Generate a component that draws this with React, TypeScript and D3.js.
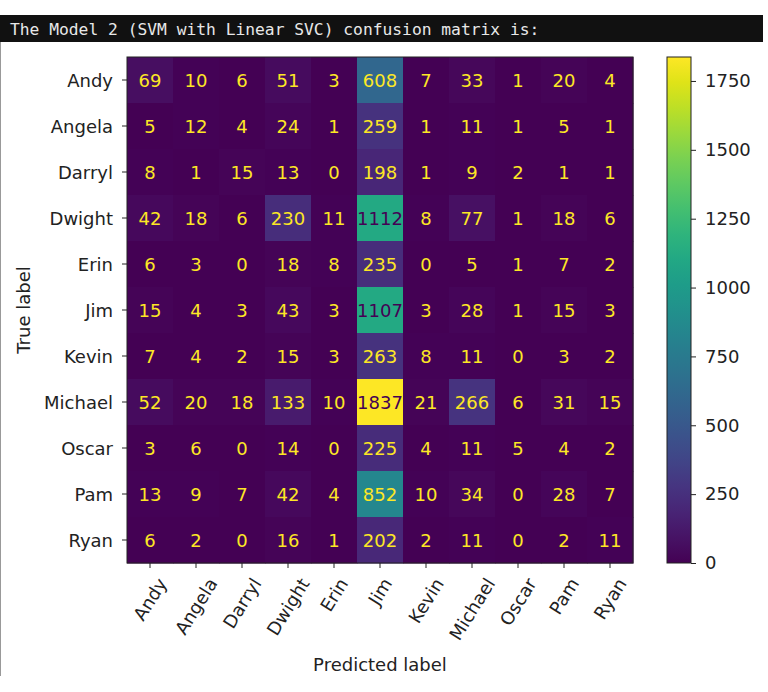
import * as d3 from "d3";
import { useEffect, useRef } from "react";

const labels = ["Andy", "Angela", "Darryl", "Dwight", "Erin", "Jim", "Kevin", "Michael", "Oscar", "Pam", "Ryan"];

const andy = [69, 10, 6, 51, 3, 608, 7, 33, 1, 20, 4];
const angela = [5, 12, 4, 24, 1, 259, 1, 11, 1, 5, 1];
const darryl = [8, 1, 15, 13, 0, 198, 1, 9, 2, 1, 1];
const dwight = [42, 18, 6, 230, 11, 1112, 8, 77, 1, 18, 6];
const erin = [6, 3, 0, 18, 8, 235, 0, 5, 1, 7, 2];
const jim = [15, 4, 3, 43, 3, 1107, 3, 28, 1, 15, 3];
const kevin = [7, 4, 2, 15, 3, 263, 8, 11, 0, 3, 2];
const michael = [52, 20, 18, 133, 10, 1837, 21, 266, 6, 31, 15];
const oscar = [3, 6, 0, 14, 0, 225, 4, 11, 5, 4, 2];
const pam = [13, 9, 7, 42, 4, 852, 10, 34, 0, 28, 7];
const ryan = [6, 2, 0, 16, 1, 202, 2, 11, 0, 2, 11];

const matrix = [andy, angela, darryl, dwight, erin, jim, kevin, michael, oscar, pam, ryan];

const colorbarTicks = [0, 250, 500, 750, 1000, 1250, 1500, 1750];

const title = "The Model 2 (SVM with Linear SVC) confusion matrix is:";

export default function App() {
  const ref = useRef<SVGSVGElement>(null);

  useEffect(() => {
    if (!ref.current) return;
    document.body.style.margin = "0";
    const svg = d3.select(ref.current);
    svg.selectAll("*").remove();

    const font = "'DejaVu Sans', sans-serif";
    const fs = 18;
    const W = 768;
    const H = 692;

    svg.append("rect").attr("width", W).attr("height", H).attr("fill", "#fff");

    // header bar
    svg.append("rect").attr("x", 0).attr("y", 15).attr("width", 763).attr("height", 27).attr("fill", "#111");
    svg
      .append("text")
      .attr("x", 10)
      .attr("y", 35)
      .style("font-family", "'DejaVu Sans Mono', monospace")
      .style("font-size", "16.3px")
      .attr("fill", "#e8e8e8")
      .text(title);
    svg.append("line").attr("x1", 0.5).attr("x2", 0.5).attr("y1", 42).attr("y2", 676).attr("stroke", "#999");

    const left = 127, right = 633, top = 57, bottom = 563;
    const x = d3.scaleBand<string>().domain(labels).range([left, right]);
    const y = d3.scaleBand<string>().domain(labels).range([top, bottom]);

    const vmax = d3.max(matrix.flat())!;
    const vmin = d3.min(matrix.flat())!;
    const color = d3.scaleSequential(d3.interpolateViridis).domain([vmin, vmax]);
    const thresh = (vmax + vmin) / 2;

    const cells = matrix.flatMap((row, i) => row.map((v, j) => ({ r: labels[i], c: labels[j], v })));

    const g = svg.append("g");
    g.selectAll("rect.cell")
      .data(cells)
      .enter()
      .append("rect")
      .attr("class", "cell")
      .attr("x", (d) => x(d.c)!)
      .attr("y", (d) => y(d.r)!)
      .attr("width", x.bandwidth() + 0.5)
      .attr("height", y.bandwidth() + 0.5)
      .attr("fill", (d) => color(d.v));

    g.selectAll("text.val")
      .data(cells)
      .enter()
      .append("text")
      .attr("class", "val")
      .attr("x", (d) => x(d.c)! + x.bandwidth() / 2)
      .attr("y", (d) => y(d.r)! + y.bandwidth() / 2)
      .attr("text-anchor", "middle")
      .attr("dominant-baseline", "central")
      .style("font-family", font)
      .style("font-size", `${fs}px`)
      .attr("fill", (d) => (d.v > thresh ? d3.interpolateViridis(0) : d3.interpolateViridis(1)))
      .text((d) => d.v);

    svg
      .append("rect")
      .attr("x", left)
      .attr("y", top)
      .attr("width", right - left)
      .attr("height", bottom - top)
      .attr("fill", "none")
      .attr("stroke", "#222")
      .attr("stroke-width", 1);

    // y axis
    const yAxis = svg.append("g");
    labels.forEach((l) => {
      const cy = y(l)! + y.bandwidth() / 2;
      yAxis.append("line").attr("x1", left - 5).attr("x2", left).attr("y1", cy).attr("y2", cy).attr("stroke", "#222");
      yAxis
        .append("text")
        .attr("x", left - 14)
        .attr("y", cy)
        .attr("text-anchor", "end")
        .attr("dominant-baseline", "central")
        .style("font-family", font)
        .style("font-size", `${fs}px`)
        .attr("fill", "#222")
        .text(l);
    });

    // x axis: rotated labels, rotated bbox centred under the tick
    const rot = 58;
    const rad = (rot * Math.PI) / 180;
    const ctx = document.createElement("canvas").getContext("2d")!;
    ctx.font = `${fs}px 'DejaVu Sans'`;
    const xAxis = svg.append("g");
    labels.forEach((l) => {
      const cx = x(l)! + x.bandwidth() / 2;
      xAxis.append("line").attr("x1", cx).attr("x2", cx).attr("y1", bottom).attr("y2", bottom + 5).attr("stroke", "#222");
      const w = ctx.measureText(l).width;
      const h = fs * 1.0;
      const half = (w * Math.sin(rad) + h * Math.cos(rad)) / 2;
      const cy = bottom + 12 + half;
      xAxis
        .append("text")
        .attr("transform", `translate(${cx},${cy}) rotate(${-rot})`)
        .attr("text-anchor", "middle")
        .attr("dominant-baseline", "central")
        .style("font-family", font)
        .style("font-size", `${fs}px`)
        .attr("fill", "#222")
        .text(l);
    });

    svg
      .append("text")
      .attr("x", (left + right) / 2)
      .attr("y", 671)
      .attr("text-anchor", "middle")
      .style("font-family", font)
      .style("font-size", `${fs}px`)
      .attr("fill", "#222")
      .text("Predicted label");

    svg
      .append("text")
      .attr("transform", `translate(30,${(top + bottom) / 2}) rotate(-90)`)
      .attr("text-anchor", "middle")
      .style("font-family", font)
      .style("font-size", `${fs}px`)
      .attr("fill", "#222")
      .text("True label");

    // colorbar
    const cbL = 667, cbR = 691;
    const cbScale = d3.scaleLinear().domain([vmin, vmax]).range([bottom, top]);
    const defs = svg.append("defs");
    const grad = defs
      .append("linearGradient")
      .attr("id", "cb-grad")
      .attr("x1", "0")
      .attr("y1", "1")
      .attr("x2", "0")
      .attr("y2", "0");
    d3.range(0, 1.0001, 0.05).forEach((t) => {
      grad.append("stop").attr("offset", `${t * 100}%`).attr("stop-color", d3.interpolateViridis(t));
    });
    svg
      .append("rect")
      .attr("x", cbL)
      .attr("y", top)
      .attr("width", cbR - cbL)
      .attr("height", bottom - top)
      .attr("fill", "url(#cb-grad)")
      .attr("stroke", "#222")
      .attr("stroke-width", 1);

    const cbAxis = d3
      .axisRight(cbScale)
      .tickValues(colorbarTicks)
      .tickSize(5)
      .tickPadding(9)
      .tickFormat((d) => String(d));
    const cbG = svg.append("g").attr("transform", `translate(${cbR},0)`).call(cbAxis);
    cbG.select(".domain").remove();
    cbG.selectAll("line").attr("stroke", "#222");
    cbG
      .selectAll("text")
      .style("font-family", font)
      .style("font-size", `${fs}px`)
      .attr("fill", "#222");
  }, []);

  return <svg ref={ref} width={768} height={692} style={{ display: "block" }} />;
}
